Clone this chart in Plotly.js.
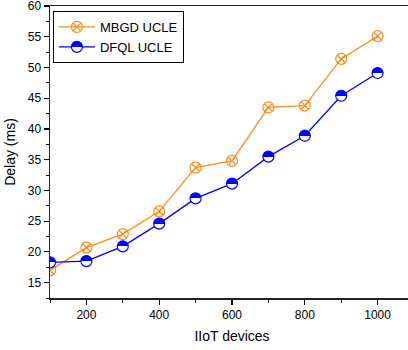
<!DOCTYPE html>
<html><head><meta charset="utf-8">
<script src="https://cdn.plot.ly/plotly-3.0.1.min.js"></script>
<style>html,body{margin:0;padding:0;background:#fff;overflow:hidden}#c{width:414px;height:350px}</style>
</head><body><div id="c"></div>
<script>
const devices = [100, 200, 300, 400, 500, 600, 700, 800, 900, 1000];
const mbgdUcle = [17.0, 20.7, 22.9, 26.6, 33.7, 34.8, 43.5, 43.8, 51.4, 55.1];
const dfqlUcle = [18.3, 18.5, 20.9, 24.6, 28.7, 31.1, 35.5, 38.9, 45.4, 49.1];
const xTicks = [200, 400, 600, 800, 1000];
const yTicks = [15, 20, 25, 30, 35, 40, 45, 50, 55, 60];

const traces = [
  {x: devices, y: mbgdUcle, name: 'MBGD UCLE', mode: 'lines+markers',
   line: {color: '#FF8C1A', width: 1.3},
   marker: {symbol: 'circle-x-open', size: 11, color: '#FF8C1A', line: {width: 1.2, color: '#FF8C1A'}}},
  {x: devices, y: dfqlUcle, name: 'DFQL UCLE', mode: 'lines+markers',
   line: {color: '#0000FF', width: 1.3},
   marker: {symbol: 'circle', size: 11, color: '#0000FF', gradient: {type: 'vertical', color: '#FFFFFF'},
            line: {width: 1.2, color: '#0000FF'}}}
];
const font = {family: 'Liberation Sans, Arial, sans-serif', color: '#000'};
const layout = {
  width: 414, height: 350,
  margin: {l: 50, r: 0, t: 6, b: 52},
  paper_bgcolor: '#fff', plot_bgcolor: '#fff',
  font: font,
  showlegend: true,
  legend: {x: 0.008, y: 0.983, xanchor: 'left', yanchor: 'top', bordercolor: '#000', borderwidth: 1,
           bgcolor: '#fff', font: {size: 13, family: font.family}, tracegroupgap: 0, itemwidth: 36},
  xaxis: {range: [100, 1100], tickvals: xTicks, ticktext: xTicks.map(String), ticks: 'outside', ticklen: 5,
          tickwidth: 1.2, tickcolor: '#000', showline: true, linecolor: '#222', linewidth: 1.5, mirror: true,
          showgrid: false, zeroline: false, tickfont: {size: 12},
          minor: {dtick: 100, tick0: 100, ticks: 'outside', ticklen: 3, tickcolor: '#000', tickwidth: 1, showgrid: false},
          title: {text: 'IIoT devices', font: {size: 14}, standoff: 10}},
  yaxis: {range: [12.5, 60], tickvals: yTicks, ticktext: yTicks.map(String), ticks: 'outside', ticklen: 5,
          tickwidth: 1.2, tickcolor: '#000', showline: true, linecolor: '#222', linewidth: 1.5, mirror: false,
          showgrid: false, zeroline: false, tickfont: {size: 12}, ticklabeloverflow: 'allow',
          minor: {dtick: 2.5, tick0: 12.5, ticks: 'outside', ticklen: 3, tickcolor: '#000', tickwidth: 1, showgrid: false},
          title: {text: 'Delay (ms)', font: {size: 14}, standoff: 9}}
};
Plotly.newPlot('c', traces, layout, {displayModeBar: false, staticPlot: true}).then(function(){
  document.querySelectorAll('linearGradient').forEach(function(g){
    const stops = g.querySelectorAll('stop');
    if (stops.length < 2) return;
    const c0 = stops[0].getAttribute('stop-color'), o0 = stops[0].getAttribute('stop-opacity');
    const c1 = stops[stops.length-1].getAttribute('stop-color'), o1 = stops[stops.length-1].getAttribute('stop-opacity');
    while (g.firstChild) g.removeChild(g.firstChild);
    [[0,c0,o0],[50,c0,o0],[50,c1,o1],[100,c1,o1]].forEach(function(s){
      const st = document.createElementNS('http://www.w3.org/2000/svg','stop');
      st.setAttribute('offset', s[0] + '%');
      st.setAttribute('stop-color', s[1]);
      if (s[2] !== null) st.setAttribute('stop-opacity', s[2]);
      g.appendChild(st);
    });
  });
});
</script></body></html>
